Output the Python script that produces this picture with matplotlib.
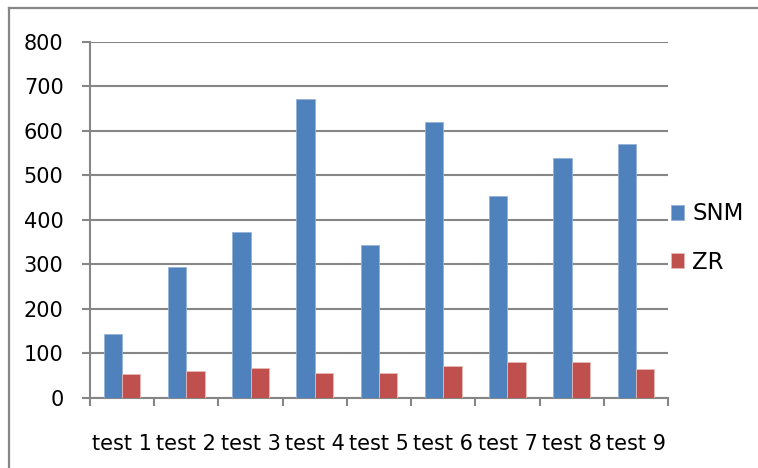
import numpy as np
import matplotlib
matplotlib.use('Agg')
import matplotlib.pyplot as plt
from matplotlib.lines import Line2D

plt.rcParams['font.family'] = ['DejaVu Sans']

# 데이터
categories = ['test 1', 'test 2', 'test 3', 'test 4', 'test 5',
              'test 6', 'test 7', 'test 8', 'test 9']
snm = [143, 293, 372, 671, 343, 621, 453, 538, 571]
zr = [54, 59, 66, 56, 55, 71, 79, 80, 65]
yticks = [0, 100, 200, 300, 400, 500, 600, 700, 800]

blue = '#4F81BD'
red = '#C0504D'
gray = '#868686'

fig = plt.figure(figsize=(7.58, 4.68), dpi=100)
W, H = 758, 468

# 바깥 테두리 (위, 왼쪽만 보임)
fig.lines.append(Line2D([8.5 / W, 1], [1 - 7.5 / H, 1 - 7.5 / H],
                        transform=fig.transFigure, color=gray, linewidth=1.6))
fig.lines.append(Line2D([8.5 / W, 8.5 / W], [0, 1 - 7.5 / H],
                        transform=fig.transFigure, color=gray, linewidth=1.6))

ax = fig.add_axes([90 / W, 1 - 397.5 / H, 578 / W, 355.5 / H])

x = np.arange(len(categories))
bw = 0.285
ax.bar(x - bw / 2, snm, bw, color=blue, edgecolor='#95B3D7', linewidth=0.6, label='SNM', zorder=3)
ax.bar(x + bw / 2, zr, bw, color=red, edgecolor='#E6B9B8', linewidth=0.6, label='ZR', zorder=3)

ax.set_xlim(-0.5, len(categories) - 0.5)
ax.set_ylim(0, 800)
ax.set_yticks(yticks)
ax.set_yticklabels([str(v) for v in yticks], fontsize=15)
ax.yaxis.grid(True, color=gray, linewidth=1.5, zorder=0)
ax.tick_params(axis='y', length=6, width=1.5, color=gray, pad=13)

ax.set_xticks(x)
ax.set_xticklabels(categories, fontsize=15)
ax.set_xticks(np.arange(-0.5, len(categories)), minor=True)
ax.tick_params(axis='x', which='major', length=0, pad=26)
ax.tick_params(axis='x', which='minor', length=6, width=1.5, color=gray)

for side in ['top', 'right']:
    ax.spines[side].set_visible(False)
for side in ['left', 'bottom']:
    ax.spines[side].set_color(gray)
    ax.spines[side].set_linewidth(1.5)

fig.legend(loc='center left', bbox_to_anchor=(650 / W, 1 - 238 / H),
           frameon=False, fontsize=16.5, handlelength=0.6, handleheight=0.6,
           handletextpad=0.35, labelspacing=1.1)

plt.savefig('out.png', dpi=100)
